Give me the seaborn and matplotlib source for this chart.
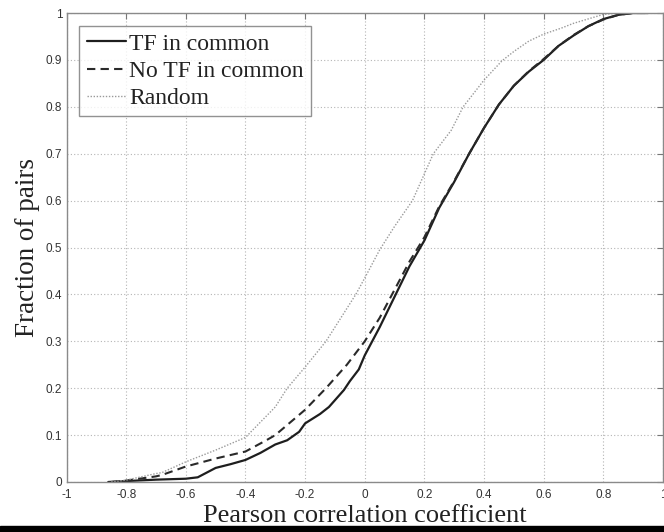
import numpy as np
import pandas as pd
import seaborn as sns
import matplotlib
matplotlib.use("Agg")
import matplotlib.pyplot as plt
from matplotlib.patches import Rectangle

# CDF of Pearson correlation values
tf_r = [-0.86, -0.8, -0.7, -0.6, -0.56, -0.5, -0.45, -0.4, -0.35, -0.3, -0.26, -0.22, -0.2,
        -0.15, -0.12, -0.07, -0.05, -0.02, 0.0, 0.05, 0.1, 0.15, 0.2, 0.25, 0.3, 0.35, 0.4,
        0.45, 0.5, 0.55, 0.6, 0.65, 0.7, 0.75, 0.8, 0.85, 0.9, 0.95]
tf_frac = [0.0, 0.002, 0.005, 0.007, 0.01, 0.03, 0.038, 0.047, 0.062, 0.08, 0.089, 0.107, 0.125,
           0.145, 0.16, 0.196, 0.215, 0.24, 0.27, 0.33, 0.395, 0.46, 0.515, 0.585, 0.64, 0.7, 0.755,
           0.805, 0.845, 0.875, 0.9, 0.93, 0.952, 0.972, 0.987, 0.996, 1.0, 1.0]

notf_r = [-0.85, -0.8, -0.7, -0.68, -0.6, -0.5, -0.4, -0.33, -0.3, -0.2, -0.13, -0.06, 0.0,
          0.05, 0.1, 0.15, 0.2, 0.25, 0.3, 0.35, 0.4, 0.45, 0.5, 0.55, 0.6, 0.65, 0.7, 0.75,
          0.8, 0.85, 0.9, 0.95]
notf_frac = [0.0, 0.003, 0.012, 0.015, 0.033, 0.05, 0.065, 0.089, 0.1, 0.154, 0.2, 0.25, 0.3,
             0.35, 0.41, 0.47, 0.522, 0.588, 0.642, 0.7, 0.755, 0.805, 0.845, 0.876, 0.902, 0.93,
             0.953, 0.972, 0.986, 0.996, 1.0, 1.0]

rand_r = [-0.85, -0.8, -0.7, -0.68, -0.6, -0.5, -0.4, -0.3, -0.26, -0.2, -0.13, -0.1, -0.03,
          0.0, 0.05, 0.1, 0.16, 0.23, 0.29, 0.33, 0.4, 0.46, 0.5, 0.55, 0.6, 0.66, 0.7, 0.8,
          0.85, 0.95]
rand_frac = [0.0, 0.004, 0.018, 0.02, 0.043, 0.068, 0.095, 0.16, 0.2, 0.245, 0.3, 0.33, 0.4,
             0.435, 0.495, 0.545, 0.6, 0.7, 0.75, 0.8, 0.857, 0.898, 0.918, 0.94, 0.955, 0.968,
             0.978, 0.997, 1.0, 1.0]

series_names = ["TF in common", "No TF in common", "Random"]
x_ticks = [-1, -0.8, -0.6, -0.4, -0.2, 0, 0.2, 0.4, 0.6, 0.8, 1]
x_labels = ["-1", "-0.8", "-0.6", "-0.4", "-0.2", "0", "0.2", "0.4", "0.6", "0.8", "1"]
y_ticks = [0, 0.1, 0.2, 0.3, 0.4, 0.5, 0.6, 0.7, 0.8, 0.9, 1]
y_labels = ["0", "0.1", "0.2", "0.3", "0.4", "0.5", "0.6", "0.7", "0.8", "0.9", "1"]

df = pd.concat([
    pd.DataFrame({"r": tf_r, "frac": tf_frac, "group": series_names[0]}),
    pd.DataFrame({"r": notf_r, "frac": notf_frac, "group": series_names[1]}),
    pd.DataFrame({"r": rand_r, "frac": rand_frac, "group": series_names[2]}),
])

sns.set_style("white")
plt.rcParams["font.family"] = ["Liberation Sans", "DejaVu Sans"]

fig = plt.figure(figsize=(6.64, 5.32), dpi=100)
ax = fig.add_axes([66.5 / 664, 50 / 532, 596.5 / 664, 469 / 532])

styles = {
    series_names[0]: dict(color="#1e1e1e", linestyle="-", linewidth=1.6),
    series_names[1]: dict(color="#2a2a2a", linestyle=(0, (4, 2.5)), linewidth=1.5),
    series_names[2]: dict(color="#9a9a9a", linestyle=(0, (1, 1.2)), linewidth=1.0),
}
for name in series_names:
    sub = df[df["group"] == name]
    sns.lineplot(data=sub, x="r", y="frac", ax=ax, label=name, estimator=None,
                 sort=False, **styles[name])

ax.set_xlim(-1, 1)
ax.set_ylim(0, 1)
ax.set_xticks(x_ticks, x_labels)
ax.set_yticks(y_ticks, y_labels)
ax.grid(True, linestyle=(0, (1, 2)), color="#b5b5b5", linewidth=0.8)
ax.tick_params(direction="in", length=4, width=0.8, color="#777777", labelsize=8.5,
               labelcolor="#333333", top=True, right=True)
ax.tick_params(axis="x", pad=5)
ax.tick_params(axis="y", pad=3)
for sp in ax.spines.values():
    sp.set_color("#8a8a8a")
    sp.set_linewidth(1.0)

ax.set_xlabel("Pearson correlation coefficient", family="Liberation Serif", fontsize=19,
              color="#222222", labelpad=3)
ax.set_ylabel("Fraction of pairs", family="Liberation Serif", fontsize=19.5,
              color="#222222", labelpad=4)

leg = ax.legend(loc="upper left", prop=dict(family="Liberation Serif", size=17),
                frameon=True, fancybox=False, borderaxespad=0.55, borderpad=0.3,
                handlelength=1.65, handletextpad=0.15, labelspacing=0.24)
leg.get_frame().set_edgecolor("#777777")
leg.get_frame().set_linewidth(1.0)
for t in leg.get_texts():
    t.set_color("#222222")

# dark strip along the bottom edge of the scanned figure
fig.add_artist(Rectangle((0, 0), 1, 6 / 532, transform=fig.transFigure,
                         color="black", zorder=10))

fig.savefig("out.png", dpi=100)
